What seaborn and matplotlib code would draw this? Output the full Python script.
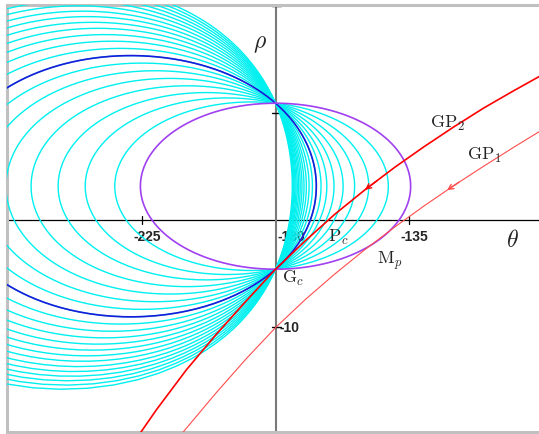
import numpy as np
import pandas as pd
import matplotlib
matplotlib.use("Agg")
import matplotlib.pyplot as plt
import seaborn as sns

# Common points of the contour family on the -180 deg line (dB)
UPPER_POINT_DB = 10.9
LOWER_POINT_DB = -4.6

# Offsets of the circle centres above the chord (complex plane), one per contour
CONTOUR_OFFSETS = [0.29, 0.60, 0.88, 1.17, 1.46, 1.75, 2.04, 2.33, 2.62, 2.92,
                   3.21, 3.50, 3.79, 4.08, 4.37, 4.67, 4.96, 5.25, 5.54, 5.83, 6.12]
HIGHLIGHT_OFFSET = 2.33   # contour drawn in blue
BOUNDARY_OFFSET = 0.0     # limiting contour drawn in purple

# Open-loop frequency responses (phase in deg, gain in dB)
GP1_PHASE = [-215, -210, -200, -190, -180, -170, -160, -150, -140, -130,
             -120, -110, -100, -90, -86]
GP1_DB = [-21.13, -19.45, -16.15, -13.0, -10.05, -7.43, -5.03, -2.78, -0.68, 1.32,
          3.22, 5.02, 6.77, 8.47, 9.15]
GP2_PHASE = [-230, -225, -220, -210, -200, -190, -180, -170, -160, -150, -140,
             -130, -120, -110, -100, -90, -86]
GP2_DB = [-21.7, -19.7, -17.7, -14.0, -10.7, -7.6, -4.6, -1.95, 0.55, 2.8, 4.9,
          6.85, 8.7, 10.45, 12.05, 13.6, 14.2]
GP1_ARROW_PHASE = -122.3
GP2_ARROW_PHASE = -149.9

THETA_TICKS = [-225, -135]
THETA_TICK_LABELS = ["-225", "-135"]
RHO_TICKS = [20, 10, -10]

sns.set_style("white")
plt.rcParams["mathtext.fontset"] = "cm"
plt.rcParams["font.family"] = ["DejaVu Sans"]

fig = plt.figure(figsize=(5.39, 4.34), dpi=100)
ax = fig.add_axes([7 / 539, 2.5 / 434, 532 / 539, 426.5 / 434])
ax.set_xlim(-270.3, -91.4)
ax.set_ylim(-19.75, 20.07)


def contour_frame(offset, n=1500):
    """Circle through the two common points, mapped to (phase deg, gain dB)."""
    a = 10 ** (UPPER_POINT_DB / 20)
    b = 10 ** (LOWER_POINT_DB / 20)
    mid = (a + b) / 2
    half = (a - b) / 2
    radius = np.hypot(half, offset)
    start = np.arctan2(-offset, mid - a)
    t = start + np.linspace(0, 2 * np.pi, n)
    z = (-mid + radius * np.cos(t)) + 1j * (offset + radius * np.sin(t))
    phase = np.degrees(np.angle(z))
    phase = np.where(phase > 0, phase - 360, phase)
    gain = 20 * np.log10(np.abs(z))
    return pd.DataFrame({"phase": phase, "gain": gain})


for off in CONTOUR_OFFSETS:
    sns.lineplot(data=contour_frame(off), x="phase", y="gain", sort=False,
                 estimator=None, color="#00f0f0", lw=1.0, ax=ax, zorder=3)

sns.lineplot(data=contour_frame(HIGHLIGHT_OFFSET), x="phase", y="gain", sort=False,
             estimator=None, color="#1a1ad8", lw=1.2, ax=ax, zorder=4)
sns.lineplot(data=contour_frame(BOUNDARY_OFFSET), x="phase", y="gain", sort=False,
             estimator=None, color="#a040f0", lw=1.2, ax=ax, zorder=4)

gp1 = pd.DataFrame({"phase": GP1_PHASE, "gain": GP1_DB})
gp2 = pd.DataFrame({"phase": GP2_PHASE, "gain": GP2_DB})
sns.lineplot(data=gp1, x="phase", y="gain", sort=False, estimator=None,
             color="#ff4d4d", lw=0.8, ax=ax, zorder=5)
sns.lineplot(data=gp2, x="phase", y="gain", sort=False, estimator=None,
             color="#ff0000", lw=1.2, ax=ax, zorder=5)

# direction arrows along the responses
for ph, g, ap, col in [(GP1_PHASE, GP1_DB, GP1_ARROW_PHASE, "#ff4d4d"),
                       (GP2_PHASE, GP2_DB, GP2_ARROW_PHASE, "#ff0000")]:
    tip = (ap, np.interp(ap, ph, g))
    tail = (ap + 4, np.interp(ap + 4, ph, g))
    ax.annotate("", xy=tip, xytext=tail,
                arrowprops=dict(arrowstyle="->", color=col, lw=1.0,
                                mutation_scale=9, shrinkA=0, shrinkB=0),
                zorder=6)

# axes through the chart
ax.axhline(0, color="black", lw=0.9, zorder=2)
ax.axvline(-180, color="#7a7a7a", lw=1.5, zorder=2)
for t in THETA_TICKS:
    ax.plot([t, t], [-0.38, 0.38], color="black", lw=0.9, zorder=2)
for r in RHO_TICKS:
    ax.plot([-181.3, -178.2], [r, r], color="black", lw=1.0, zorder=2)

tick_font = dict(family="Liberation Sans", weight="bold", fontsize=10)
for t, lab in zip(THETA_TICKS, THETA_TICK_LABELS):
    ax.text(t + 1.8, -1.6, lab, ha="center", va="center", zorder=1, **tick_font)
ax.text(-179.2, -1.6, "-180", ha="left", va="center", zorder=1, **tick_font)
ax.text(-178.6, -10.06, "-10", ha="left", va="center", zorder=1, **tick_font)

# axis names and point labels
ax.text(-185.2, 16.5, r"$\rho$", fontsize=17, ha="center", va="center", zorder=7)
ax.text(-100.3, -1.9, r"$\theta$", fontsize=17, ha="center", va="center", zorder=7)
lab_font = dict(fontsize=13, ha="left", va="baseline", zorder=7)
ax.text(-128.0, 8.59, r"$\mathrm{GP}_2$", **lab_font)
ax.text(-115.6, 5.6, r"$\mathrm{GP}_1$", **lab_font)
ax.text(-162.3, -2.03, r"$\mathrm{P}_c$", **lab_font)
ax.text(-146.0, -4.11, r"$\mathrm{M}_p$", **lab_font)
ax.text(-177.9, -5.88, r"$\mathrm{G}_c$", **lab_font)

ax.set_xlabel("")
ax.set_ylabel("")
ax.set_xticks([])
ax.set_yticks([])
for side in ["left", "top", "bottom"]:
    ax.spines[side].set_color("#c0c0c0")
    ax.spines[side].set_linewidth(2.2)
ax.spines["right"].set_visible(False)

fig.savefig("out.png", dpi=100)
